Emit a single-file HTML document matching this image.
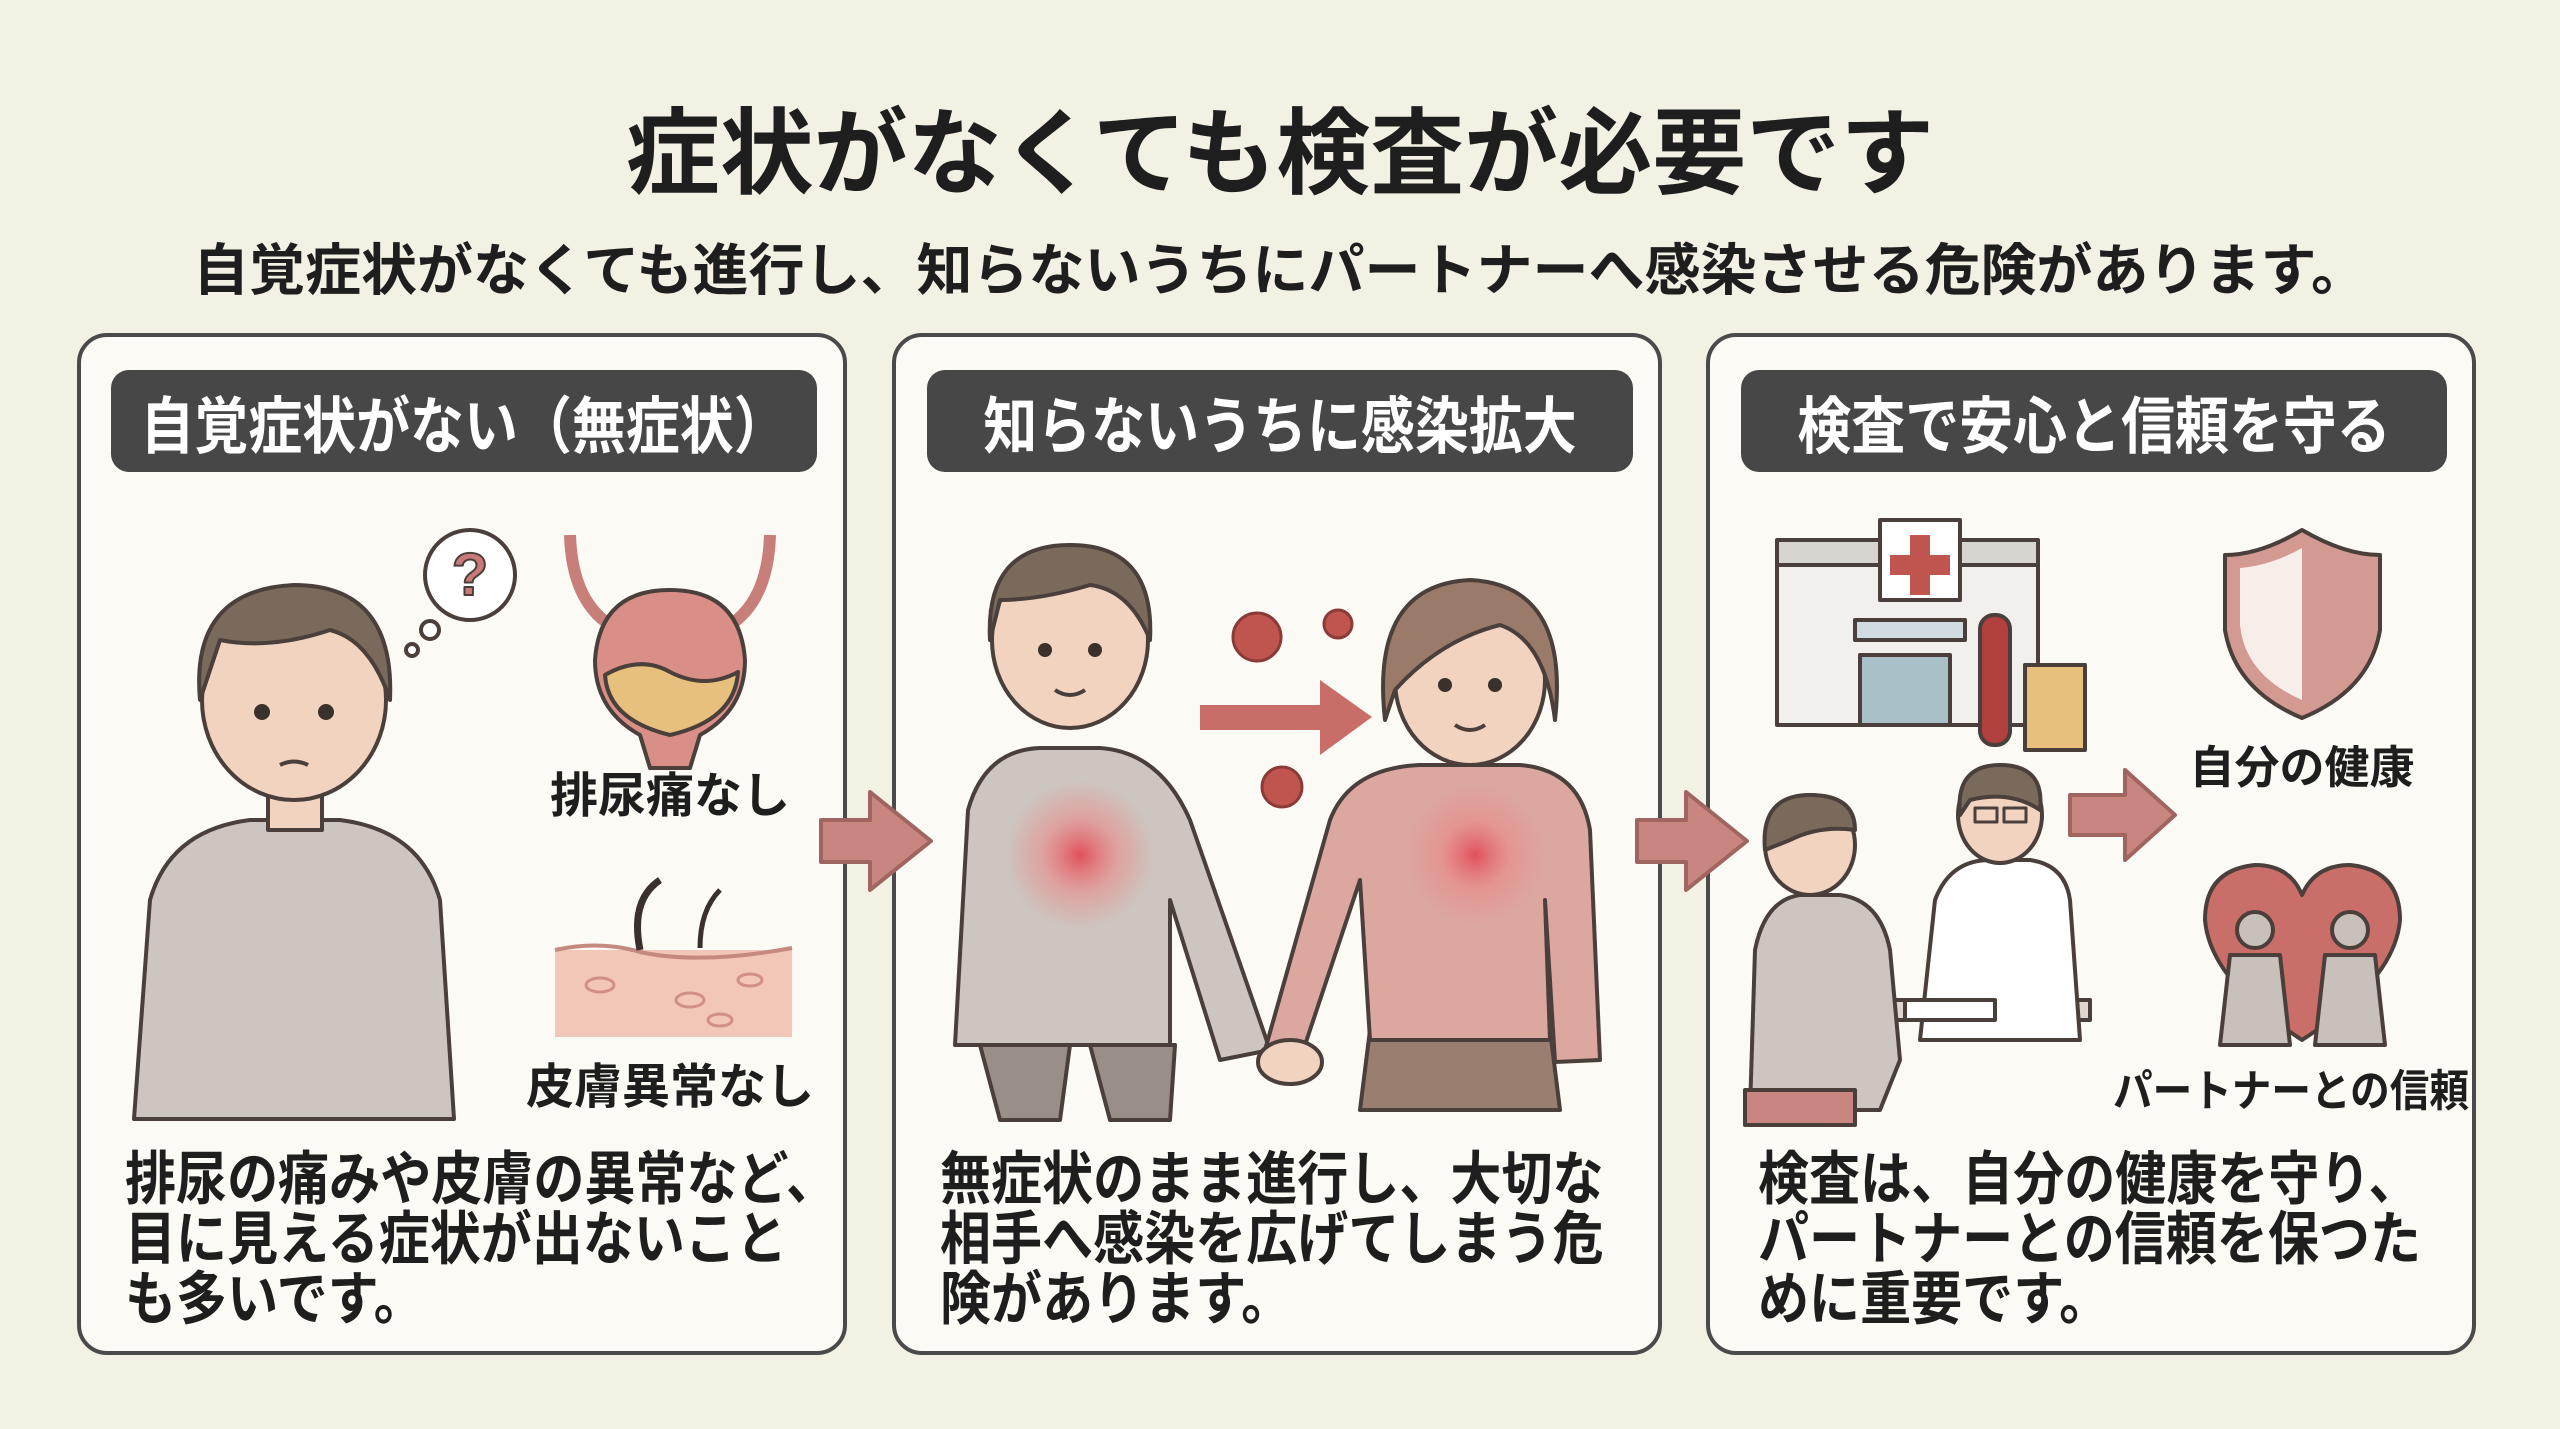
<!DOCTYPE html>
<html><head><meta charset="utf-8"><style>
html,body{margin:0;padding:0}
body{width:2560px;height:1429px;background:#f3f1e4;position:relative;overflow:hidden;font-family:"Liberation Sans","Noto Sans CJK JP",sans-serif;color:#1e1e1e}
.t{position:absolute;white-space:nowrap;font-weight:bold}
.panel{position:absolute;top:333px;width:770px;height:1022px;border:4px solid #4a4a4a;border-radius:30px;background:#fbfaf4;box-sizing:border-box}
.hdr{position:absolute;top:370px;height:102px;width:706px;background:#474747;border-radius:18px;color:#fff;font-size:62px;font-weight:bold;display:flex;align-items:center;justify-content:center}
.hdr span{display:inline-block;transform:scaleX(0.87);white-space:nowrap}
.body{position:absolute;top:1150px;font-size:58px;line-height:60px;font-weight:bold;transform:scaleX(0.88);transform-origin:0 0;white-space:nowrap}
svg{position:absolute;left:0;top:0}
</style></head><body>
<div class="t" style="left:0;width:2560px;text-align:center;top:78px;font-size:94px">症状がなくても検査が必要です</div>
<div class="t" style="left:0;width:2560px;text-align:center;top:226px;font-size:56px">自覚症状がなくても進行し、知らないうちにパートナーへ感染させる危険があります。</div>

<div class="panel" style="left:77px"></div>
<div class="panel" style="left:892px"></div>
<div class="panel" style="left:1706px"></div>
<div class="hdr" style="left:111px"><span>自覚症状がない（無症状）</span></div>
<div class="hdr" style="left:927px"><span>知らないうちに感染拡大</span></div>
<div class="hdr" style="left:1741px"><span>検査で安心と信頼を守る</span></div>

<svg width="2560" height="1429" viewBox="0 0 2560 1429">
<defs>
<radialGradient id="glow"><stop offset="0" stop-color="#e0505a"/><stop offset="0.5" stop-color="#e98a8a" stop-opacity="0.6"/><stop offset="1" stop-color="#e98a8a" stop-opacity="0"/></radialGradient>
</defs>
<g stroke="#4a3f3a" stroke-width="4" stroke-linejoin="round">
<path d="M134 1119 L150 900 Q170 830 250 820 L340 820 Q420 830 440 900 L454 1119 Z" fill="#cdc6c0"/>
<rect x="268" y="760" width="54" height="70" fill="#f1d3c0"/>
<ellipse cx="294" cy="700" rx="92" ry="100" fill="#f1d3c0"/>
<path d="M200 700 Q190 590 294 585 Q395 585 390 700 Q370 640 330 630 Q270 650 220 640 Z" fill="#7a6a5c"/>
<circle cx="262" cy="712" r="8" fill="#3a312c" stroke="none"/><circle cx="326" cy="712" r="8" fill="#3a312c" stroke="none"/>
<path d="M280 765 Q294 758 308 765" fill="none"/>
<circle cx="470" cy="575" r="45" fill="#fff"/><circle cx="430" cy="630" r="9" fill="#fff"/><circle cx="412" cy="650" r="6" fill="#fff"/>
<text x="470" y="595" font-size="60" fill="#c97a78" stroke="#4a3f3a" stroke-width="2" text-anchor="middle" font-weight="bold">?</text>
<path d="M570 535 Q572 600 610 625 M770 535 Q768 600 730 625" fill="none" stroke="#c87f7a" stroke-width="12"/>
<path d="M670 590 Q740 590 745 660 Q745 710 700 735 L690 768 L650 768 L640 735 Q595 710 595 660 Q600 590 670 590 Z" fill="#d98f88"/>
<path d="M605 675 Q640 655 670 672 Q705 690 738 672 Q735 720 670 735 Q608 720 605 675 Z" fill="#e8c07e"/>
<rect x="555" y="950" width="237" height="87" fill="#f3c7b8" stroke="none"/>
<path d="M555 950 Q600 940 640 952 Q700 965 792 948" fill="none" stroke="#c48a7f"/>
<path d="M640 950 Q630 900 660 880" fill="none" stroke="#3a312c" stroke-width="7"/>
<path d="M700 948 Q700 910 720 890" fill="none" stroke="#3a312c" stroke-width="5"/>
<g fill="none" stroke="#d08f88" stroke-width="3"><ellipse cx="600" cy="985" rx="14" ry="7"/><ellipse cx="690" cy="1000" rx="14" ry="7"/><ellipse cx="750" cy="980" rx="12" ry="6"/><ellipse cx="720" cy="1020" rx="12" ry="6"/></g>
<path d="M821 820 L870 820 L870 792 L931 841 L870 890 L870 862 L821 862 Z" fill="#c98680" stroke="#a06560"/>
<path d="M1637 820 L1686 820 L1686 792 L1747 841 L1686 890 L1686 862 L1637 862 Z" fill="#c98680" stroke="#a06560"/>
<path d="M980 1045 L1000 1120 L1060 1120 L1070 1045 Z M1090 1045 L1110 1120 L1170 1120 L1175 1045 Z" fill="#9a8f88"/>
<path d="M955 1045 L968 810 Q985 750 1040 748 L1100 748 Q1160 752 1190 820 L1270 1050 L1220 1060 L1170 900 L1170 1045 Z" fill="#cdc6c0"/>
<ellipse cx="1070" cy="640" rx="78" ry="88" fill="#f1d3c0"/>
<path d="M990 640 Q985 545 1070 545 Q1155 545 1150 640 Q1130 590 1090 585 Q1040 600 1000 600 Z" fill="#7a6a5c"/>
<circle cx="1045" cy="650" r="7" fill="#3a312c" stroke="none"/><circle cx="1095" cy="650" r="7" fill="#3a312c" stroke="none"/>
<path d="M1055 690 Q1070 700 1085 690" fill="none"/>
<circle cx="1080" cy="855" r="75" fill="url(#glow)" stroke="none"/>
<path d="M1370 1030 L1550 1030 L1560 1110 L1360 1110 Z" fill="#9a7f70"/>
<path d="M1370 1040 L1360 880 L1300 1060 L1265 1050 L1330 820 Q1350 768 1420 765 L1520 765 Q1580 770 1590 830 L1600 1060 L1555 1062 L1545 900 L1550 1040 Z" fill="#dca79f"/>
<ellipse cx="1470" cy="680" rx="75" ry="85" fill="#f1d3c0"/>
<path d="M1385 720 Q1370 585 1470 580 Q1570 585 1555 720 Q1545 640 1500 625 Q1440 640 1395 690 Z" fill="#9a7a68"/>
<circle cx="1445" cy="685" r="7" fill="#3a312c" stroke="none"/><circle cx="1495" cy="685" r="7" fill="#3a312c" stroke="none"/>
<path d="M1455 725 Q1470 735 1485 725" fill="none"/>
<circle cx="1475" cy="855" r="70" fill="url(#glow)" stroke="none"/>
<ellipse cx="1290" cy="1062" rx="32" ry="22" fill="#f1d3c0"/>
<path d="M1200 705 L1320 705 L1320 680 L1372 717 L1320 755 L1320 730 L1200 730 Z" fill="#c0544f" stroke="none" opacity="0.85"/>
<g fill="#c0544f" stroke="#8a3b38" stroke-width="3">
<circle cx="1257" cy="637" r="24"/><circle cx="1338" cy="624" r="14"/><circle cx="1282" cy="787" r="20"/></g>
<rect x="1777" y="560" width="261" height="165" fill="#f2f0ec"/>
<rect x="1777" y="540" width="261" height="25" fill="#d8d4cf"/>
<rect x="1880" y="520" width="80" height="80" fill="#fff"/>
<path d="M1910 535 h20 v20 h20 v20 h-20 v20 h-20 v-20 h-20 v-20 h20 z" fill="#c0544f" stroke="none"/>
<rect x="1855" y="620" width="110" height="20" fill="#cfdbe0"/>
<rect x="1860" y="655" width="90" height="70" fill="#a9c0c8"/>
<rect x="1980" y="615" width="30" height="130" rx="14" fill="#b2403e"/>
<rect x="2025" y="665" width="60" height="85" fill="#e8c07e"/>
<path d="M2302 530 Q2260 555 2225 555 L2225 630 Q2235 690 2302 718 Q2370 690 2380 630 L2380 555 Q2345 555 2302 530 Z" fill="#d39a92"/>
<path d="M2302 548 L2302 700 Q2245 675 2240 625 L2240 568 Q2272 565 2302 548 Z" fill="#f7eeea" stroke="none"/>
<path d="M2070 795 L2125 795 L2125 770 L2175 815 L2125 860 L2125 835 L2070 835 Z" fill="#c98680" stroke="#a06560"/>
<path d="M2302 1040 Q2210 980 2205 920 Q2205 870 2255 865 Q2290 865 2302 895 Q2315 865 2350 865 Q2400 870 2400 920 Q2395 980 2302 1040 Z" fill="#c96e68"/>
<circle cx="2255" cy="930" r="18" fill="#c8c0ba"/><circle cx="2350" cy="930" r="18" fill="#c8c0ba"/>
<path d="M2220 1045 L2230 955 L2280 955 L2290 1045 Z M2315 1045 L2325 955 L2375 955 L2385 1045 Z" fill="#c8c0ba"/>
<rect x="1860" y="1000" width="230" height="20" fill="#ddd7d0"/>
<path d="M1750 1110 L1755 950 Q1765 900 1800 895 L1840 895 Q1880 900 1890 950 L1900 1060 L1880 1110 Z" fill="#cdc6c0"/>
<ellipse cx="1810" cy="845" rx="45" ry="50" fill="#f1d3c0"/>
<path d="M1765 850 Q1760 795 1810 795 Q1855 795 1855 830 Q1820 825 1790 840 Z" fill="#7a6a5c"/>
<rect x="1745" y="1090" width="110" height="35" fill="#c98680"/>
<path d="M1920 1040 L1935 900 Q1950 860 1990 860 L2030 860 Q2065 865 2070 900 L2080 1040 Z" fill="#fff"/>
<ellipse cx="2000" cy="815" rx="42" ry="48" fill="#f1d3c0"/>
<path d="M1960 815 Q1955 765 2000 765 Q2045 765 2040 810 Q2010 790 1970 800 Z" fill="#7a6a5c"/>
<rect x="1975" y="808" width="22" height="14" fill="none" stroke-width="3"/><rect x="2004" y="808" width="22" height="14" fill="none" stroke-width="3"/>
<rect x="1905" y="1000" width="90" height="20" fill="#fff"/>
</g>
<g font-weight="bold" fill="#1e1e1e" text-anchor="middle" font-family="Liberation Sans, Noto Sans CJK JP, sans-serif">
<text x="670" y="812" font-size="48">排尿痛なし</text>
<text x="670" y="1103" font-size="48">皮膚異常なし</text>
<text x="2302" y="783" font-size="45">自分の健康</text>
<text x="2291" y="1106" font-size="44" transform="translate(2291 0) scale(0.9 1) translate(-2291 0)">パートナーとの信頼</text>
</g>
</svg>

<div class="body" style="left:125px">排尿の痛みや皮膚の異常など、<br>目に見える症状が出ないこと<br>も多いです。</div>
<div class="body" style="left:940px">無症状のまま進行し、大切な<br>相手へ感染を広げてしまう危<br>険があります。</div>
<div class="body" style="left:1758px">検査は、自分の健康を守り、<br>パートナーとの信頼を保つた<br>めに重要です。</div>
</body></html>
